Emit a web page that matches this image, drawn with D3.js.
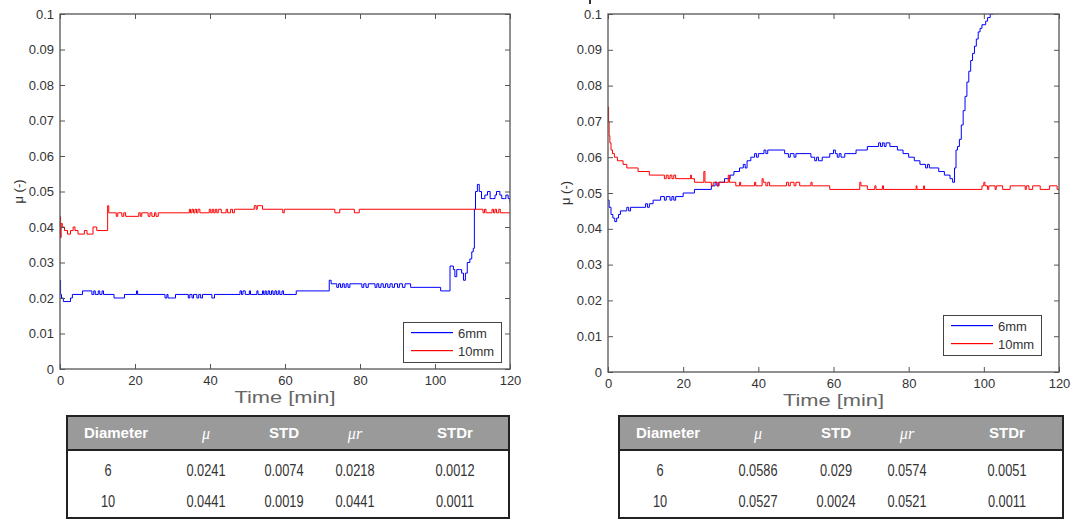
<!DOCTYPE html>
<html lang="en">
<head>
<meta charset="utf-8">
<title>Friction coefficient</title>
<script src="https://cdn.jsdelivr.net/npm/d3@7"></script>
<style>
  body { margin: 0; background: #fff; }
  svg { display: block; }
  text { font-family: "Liberation Sans", Arial, sans-serif; }
</style>
</head>
<body>
<div id="chart"></div>
<script>
// ticks
const xTicks = [0, 20, 40, 60, 80, 100, 120];
const yTicks = [0, 0.01, 0.02, 0.03, 0.04, 0.05, 0.06, 0.07, 0.08, 0.09, 0.1];

// legend / series names
const seriesNames = ["6mm", "10mm"];

// left test: [time (min), mu]
const left6mm = [[0,0.025],[0.15,0.021],[0.4,0.020],[0.9,0.019],[2.8,0.020],[3.3,0.021],[6,0.022],[8.5,0.021],[9,0.022],[9.4,0.021],[10.2,0.022],[10.6,0.021],[11.2,0.022],[11.6,0.021],[14.4,0.020],[17.2,0.021],[20.4,0.022],[20.7,0.021],[28,0.020],[28.5,0.021],[28.8,0.020],[30.8,0.021],[34.2,0.020],[34.6,0.021],[35.2,0.020],[35.6,0.021],[36.5,0.020],[37,0.021],[37.5,0.020],[38,0.021],[40.5,0.020],[41.2,0.021],[48,0.022],[48.4,0.021],[48.8,0.022],[49.4,0.021],[50.5,0.022],[50.8,0.021],[52.5,0.022],[52.8,0.021],[54,0.022],[54.3,0.021],[54.7,0.022],[55,0.021],[55.5,0.022],[55.9,0.021],[56.4,0.022],[56.8,0.021],[57.3,0.022],[57.7,0.021],[58.2,0.022],[58.6,0.021],[59.2,0.022],[59.6,0.021],[63,0.022],[71.8,0.025],[72.3,0.024],[73.8,0.023],[74.3,0.024],[74.8,0.023],[75.3,0.024],[75.8,0.023],[76.3,0.024],[76.8,0.023],[77.3,0.024],[80.5,0.023],[81,0.024],[81.6,0.023],[82.2,0.024],[84,0.023],[84.5,0.024],[85,0.023],[85.6,0.024],[86.2,0.023],[86.8,0.024],[87.4,0.023],[88,0.024],[88.6,0.023],[89.2,0.024],[90,0.023],[90.5,0.024],[91.3,0.023],[92,0.024],[93.5,0.023],[101.5,0.022],[104,0.029],[104.9,0.028],[105.3,0.026],[105.8,0.028],[106.5,0.028],[107.1,0.027],[107.6,0.025],[108.1,0.027],[108.6,0.030],[109.3,0.031],[109.8,0.033],[110.2,0.034],[110.5,0.045],[110.8,0.050],[111.3,0.052],[111.8,0.050],[112.4,0.048],[113.3,0.049],[114,0.050],[114.7,0.048],[115.4,0.048],[116,0.049],[116.4,0.050],[117.3,0.049],[117.8,0.048],[118.5,0.048],[118.9,0.049],[119.5,0.048],[120,0.047]];
const left10mm = [[0,0.043],[0.15,0.037],[0.3,0.041],[0.6,0.040],[1.2,0.039],[2,0.038],[2.8,0.039],[3.5,0.040],[4,0.039],[4.8,0.038],[6.5,0.039],[7.2,0.038],[8.8,0.040],[9.8,0.039],[12.7,0.046],[13,0.044],[15,0.043],[15.4,0.044],[16.5,0.043],[17,0.044],[17.5,0.043],[21,0.044],[21.4,0.043],[21.8,0.044],[23.5,0.043],[24,0.044],[24.5,0.043],[25.2,0.044],[25.6,0.043],[26.2,0.044],[34.5,0.045],[34.8,0.044],[35.2,0.045],[35.6,0.044],[36,0.045],[36.4,0.044],[36.8,0.045],[37.3,0.044],[39.8,0.045],[40.2,0.044],[40.6,0.045],[41,0.044],[41.4,0.045],[41.8,0.044],[42.2,0.045],[43,0.044],[44.3,0.045],[44.7,0.044],[45.5,0.045],[46,0.044],[46.5,0.045],[51.8,0.046],[52.3,0.045],[52.6,0.046],[54,0.045],[59.4,0.044],[59.8,0.045],[73.3,0.044],[74.6,0.045],[78.5,0.044],[79.8,0.045],[112.8,0.044],[113.2,0.045],[113.6,0.044],[115.2,0.045],[115.6,0.044],[116,0.045],[116.4,0.044],[117,0.045],[117.4,0.044],[120,0.044]];

// right test
const right6mm = [[0,0.048],[0.3,0.046],[0.8,0.044],[1.3,0.043],[1.8,0.042],[2.3,0.043],[2.8,0.044],[3.3,0.045],[5,0.046],[5.5,0.045],[6,0.046],[10,0.047],[10.5,0.046],[11,0.047],[12,0.048],[14,0.049],[15,0.048],[15.5,0.049],[16.5,0.048],[17,0.049],[17.5,0.048],[18,0.049],[20,0.050],[23,0.051],[27.5,0.052],[28.5,0.053],[29,0.052],[29.5,0.053],[31,0.054],[32.5,0.055],[33.5,0.056],[35,0.057],[36,0.058],[36.5,0.057],[37,0.059],[38,0.060],[39,0.061],[39.5,0.060],[40,0.061],[41.5,0.062],[42,0.061],[42.5,0.062],[47,0.061],[48,0.060],[48.5,0.061],[49.5,0.060],[50,0.061],[54,0.060],[55,0.059],[55.5,0.060],[56,0.059],[57,0.060],[59,0.061],[60,0.062],[60.5,0.061],[61,0.060],[61.5,0.061],[62,0.060],[63,0.061],[66,0.062],[69,0.063],[72,0.064],[72.5,0.063],[73,0.064],[73.5,0.063],[74,0.064],[75,0.063],[77,0.062],[78.5,0.061],[80,0.060],[81.5,0.059],[83,0.058],[84.5,0.057],[85,0.058],[85.5,0.057],[88,0.056],[89.5,0.055],[91,0.054],[91.7,0.053],[92.2,0.057],[92.6,0.062],[93,0.063],[93.5,0.065],[94,0.069],[94.5,0.073],[95,0.077],[95.5,0.081],[96,0.084],[96.5,0.087],[97,0.089],[97.5,0.091],[98,0.093],[98.5,0.095],[99,0.096],[99.5,0.097],[100.5,0.098],[101,0.099],[101.7,0.100],[102.5,0.101]];
const right10mm = [[0,0.074],[0.15,0.070],[0.3,0.066],[0.5,0.064],[0.8,0.062],[1.2,0.061],[1.7,0.060],[2.5,0.059],[4,0.058],[5,0.057],[8,0.056],[11,0.055],[15,0.054],[15.5,0.055],[16,0.054],[16.5,0.055],[17,0.054],[17.5,0.055],[18,0.054],[22,0.055],[22.2,0.054],[23,0.053],[25.5,0.056],[25.8,0.053],[27.5,0.052],[28,0.053],[29,0.052],[29.5,0.053],[32,0.055],[32.3,0.053],[34,0.052],[35,0.053],[35.3,0.052],[39,0.053],[39.3,0.052],[41,0.054],[41.3,0.053],[42,0.052],[42.5,0.053],[43,0.052],[47.5,0.053],[48,0.052],[48.5,0.053],[49.5,0.052],[50,0.053],[51,0.052],[54,0.053],[54.3,0.052],[59,0.051],[67,0.053],[67.3,0.052],[69,0.051],[71,0.052],[71.3,0.051],[73,0.052],[73.3,0.051],[82,0.052],[82.2,0.051],[84,0.052],[84.2,0.051],[99.5,0.052],[100,0.053],[100.3,0.052],[101,0.051],[101.3,0.052],[103,0.051],[103.3,0.052],[105,0.051],[107,0.052],[111,0.051],[111.3,0.052],[112,0.051],[113,0.052],[115,0.051],[117.5,0.052],[119.5,0.051],[120,0.051]];

// tables
const tableHeaders = ["Diameter", "μ", "STD", "μr", "STDr"];
const leftTableRows = [["6", "0.0241", "0.0074", "0.0218", "0.0012"],
                       ["10", "0.0441", "0.0019", "0.0441", "0.0011"]];
const rightTableRows = [["6", "0.0586", "0.029", "0.0574", "0.0051"],
                        ["10", "0.0527", "0.0024", "0.0521", "0.0011"]];

const W = 1078, H = 520;
const colors = ["#0000ff", "#ff0000"];

const svg = d3.select("#chart").append("svg")
  .attr("width", W)
  .attr("height", H);

svg.append("rect").attr("width", W).attr("height", H).attr("fill", "#fff");

// small cut-off glyph at the very top of the right figure
svg.append("rect")
  .attr("x", 589).attr("y", 0).attr("width", 2).attr("height", 4)
  .attr("fill", "#333");

function drawPanel(p) {
  const x = d3.scaleLinear().domain([0, 120]).range([p.x0, p.x1]);
  const y = d3.scaleLinear().domain([0, 0.1]).range([p.y1, p.y0]);
  const g = svg.append("g");

  g.append("clipPath").attr("id", "clip-" + p.id)
    .append("rect")
    .attr("x", p.x0).attr("y", p.y0)
    .attr("width", p.x1 - p.x0).attr("height", p.y1 - p.y0);

  const line = d3.line()
    .x(d => x(d[0]))
    .y(d => y(d[1]))
    .curve(d3.curveStepAfter);

  p.series.forEach((s, i) => {
    g.append("path")
      .attr("d", line(s))
      .style("fill", "none")
      .style("stroke", colors[i])
      .style("stroke-width", 1)
      .attr("clip-path", "url(#clip-" + p.id + ")");
  });

  // axes, ticks pointing inwards like matlab
  const fmt = d => String(+d.toFixed(2));
  const styleAxis = a => {
    a.select(".domain").remove();
    a.selectAll(".tick line").attr("stroke", "#555");
    a.selectAll(".tick text")
      .attr("fill", "#333")
      .style("font-size", "13px")
      .style("font-family", '"Liberation Sans", Arial, sans-serif');
  };

  g.append("g").attr("transform", `translate(0,${p.y1})`)
    .call(d3.axisBottom(x).tickValues(xTicks).tickSize(-5).tickSizeOuter(0).tickPadding(7).tickFormat(fmt))
    .call(styleAxis);
  g.append("g").attr("transform", `translate(0,${p.y0})`)
    .call(d3.axisTop(x).tickValues(xTicks).tickSize(-5).tickSizeOuter(0).tickFormat(""))
    .call(styleAxis);
  g.append("g").attr("transform", `translate(${p.x0},0)`)
    .call(d3.axisLeft(y).tickValues(yTicks).tickSize(-5).tickSizeOuter(0).tickPadding(6).tickFormat(fmt))
    .call(styleAxis);
  g.append("g").attr("transform", `translate(${p.x1},0)`)
    .call(d3.axisRight(y).tickValues(yTicks).tickSize(-5).tickSizeOuter(0).tickFormat(""))
    .call(styleAxis);

  // frame
  g.append("rect")
    .attr("x", p.x0).attr("y", p.y0)
    .attr("width", p.x1 - p.x0).attr("height", p.y1 - p.y0)
    .attr("fill", "none").attr("stroke", "#555").attr("stroke-width", 1.3);

  // axis titles
  g.append("text")
    .attr("x", (p.x0 + p.x1) / 2).attr("y", p.y1 + 34)
    .attr("text-anchor", "middle")
    .attr("fill", "#666")
    .style("font-size", "17px")
    .attr("textLength", 101).attr("lengthAdjust", "spacingAndGlyphs")
    .text("Time [min]");
  g.append("text")
    .attr("transform", `translate(${p.ylabX},${(p.y0 + p.y1) / 2}) rotate(-90)`)
    .attr("text-anchor", "middle")
    .attr("dy", "0.35em")
    .attr("fill", "#333")
    .style("font-size", "13px")
    .text("μ (-)");

  // legend
  const lg = g.append("g").attr("transform", `translate(${p.legX},${p.legY})`);
  lg.append("rect")
    .attr("x", 0.5).attr("y", 0.5)
    .attr("width", 98).attr("height", 40)
    .style("fill", "#fff").style("stroke", "#444").style("stroke-width", 1);
  seriesNames.forEach((name, i) => {
    const ly = 10 + i * 18;
    lg.append("rect")
      .attr("x", 8).attr("y", ly)
      .attr("width", 42).attr("height", 1.2)
      .style("fill", colors[i]);
    lg.append("text")
      .attr("x", 55).attr("y", ly + 5.5)
      .style("fill", "#333")
      .style("font-size", "13px")
      .text(name);
  });
}

function drawTable(t) {
  const g = svg.append("g").attr("transform", `translate(${t.x},${t.y})`);
  const colX = [49, 139, 217, 288, 388];
  const bodyX = [41, 139, 217, 288, 388];
  const headH = 34, rowY = [54, 85];

  g.append("rect").attr("width", t.w).attr("height", headH).attr("fill", "#9a9a9a");

  tableHeaders.forEach((h, i) => {
    const greek = h.startsWith("μ");
    g.append("text")
      .attr("x", colX[i]).attr("y", headH / 2)
      .attr("dy", "0.35em")
      .attr("text-anchor", "middle")
      .attr("fill", "#fff")
      .style("font-family", greek ? '"Liberation Serif", serif' : '"Liberation Sans", Arial, sans-serif')
      .style("font-style", greek ? "italic" : "normal")
      .style("font-weight", greek ? "normal" : "bold")
      .style("font-size", greek ? "16px" : "15px")
      .text(h);
  });

  // body cells use a condensed look: squeeze the regular face horizontally
  t.rows.forEach((row, r) => {
    row.forEach((v, i) => {
      g.append("text")
        .attr("transform", `translate(${bodyX[i]},${rowY[r]}) scale(0.8,1)`)
        .attr("dy", "0.35em")
        .attr("text-anchor", "middle")
        .attr("fill", "#333")
        .style("font-size", "16px")
        .text(v);
    });
  });

  g.append("line")
    .attr("x1", 0).attr("x2", t.w).attr("y1", headH).attr("y2", headH)
    .attr("stroke", "#222").attr("stroke-width", 2);
  g.append("rect")
    .attr("width", t.w).attr("height", t.h)
    .attr("fill", "none").attr("stroke", "#222").attr("stroke-width", 2);
}

drawPanel({ id: "l", x0: 60, x1: 510, y0: 14, y1: 369, ylabX: 18,
            series: [left6mm, left10mm], legX: 403, legY: 322 });
drawPanel({ id: "r", x0: 608, x1: 1059, y0: 14, y1: 372, ylabX: 565,
            series: [right6mm, right10mm], legX: 943, legY: 315 });

drawTable({ x: 67, y: 416, w: 442, h: 102, rows: leftTableRows });
drawTable({ x: 619, y: 416, w: 444, h: 102, rows: rightTableRows });
</script>
</body>
</html>
